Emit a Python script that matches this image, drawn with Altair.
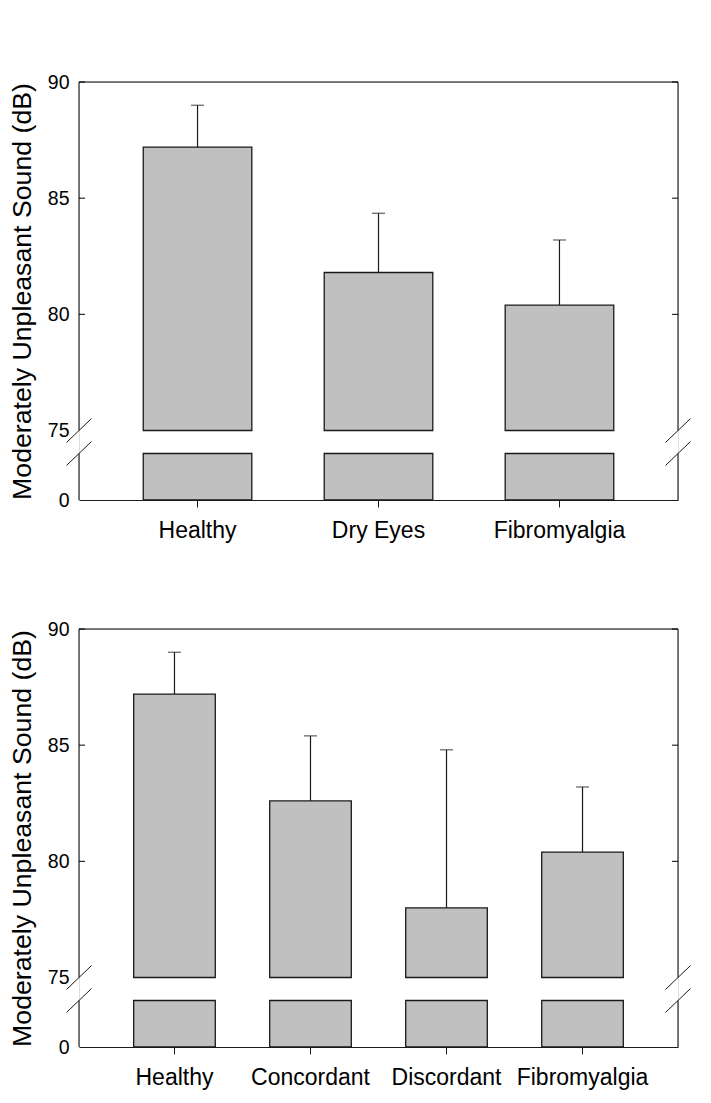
import altair as alt
import pandas as pd

# ---- data ----
groups_top = ["Healthy", "Dry Eyes", "Fibromyalgia"]
means_top = [87.2, 81.8, 80.4]
errs_top = [1.8, 2.55, 2.8]

groups_bottom = ["Healthy", "Concordant", "Discordant", "Fibromyalgia"]
means_bottom = [87.2, 82.6, 78.0, 80.4]
errs_bottom = [1.8, 2.8, 6.8, 2.8]

y_tick_values = [0, 75, 80, 85, 90]
inner_tick_values = [80, 85, 90]
y_title = "Moderately Unpleasant Sound (dB)"

# broken axis: lower segment 0..BREAK_LOW, upper segment BREAK_HIGH..Y_MAX
BREAK_LOW = 10
BREAK_HIGH = 75
Y_MAX = 90

W = 599
H = 418
FONT = "Liberation Sans"
LINE = "#1a1a1a"


def panel(groups, means, errs, pad_outer):
    df = pd.DataFrame({"group": groups, "mean": means, "err": errs})
    df["upper"] = df["mean"] + df["err"]
    df["low"] = df["mean"].clip(upper=BREAK_LOW)

    yscale = alt.Scale(domain=[0, BREAK_LOW, BREAK_HIGH, Y_MAX],
                       range=[H, H - 46.5, H - 69.5, 0],
                       zero=False, nice=False)
    xscale = alt.Scale(domain=groups, paddingInner=0.4, paddingOuter=pad_outer)
    base = alt.Chart(df)

    upper_bars = base.mark_bar(fill="#c0c0c0", stroke=LINE, strokeWidth=1.3).encode(
        x=alt.X("group:N", scale=xscale, sort=groups, title=None,
                axis=alt.Axis(labelAngle=0, labelFont=FONT, labelFontSize=23,
                              labelColor="black", labelPadding=12,
                              tickSize=7, tickColor=LINE, domainColor=LINE,
                              grid=False)),
        y=alt.Y("mean:Q", scale=yscale, title=y_title,
                axis=alt.Axis(values=y_tick_values, domain=False, ticks=False,
                              tickSize=0, grid=False, labelFont=FONT,
                              labelFontSize=19.5, labelColor="black",
                              labelPadding=10, titleFont=FONT,
                              titleFontSize=26.7, titleFontWeight="normal",
                              titleColor="black", titlePadding=11)),
        y2=alt.datum(BREAK_HIGH),
    )
    lower_bars = base.mark_bar(fill="#c0c0c0", stroke=LINE, strokeWidth=1.3).encode(
        x=alt.X("group:N", scale=xscale, sort=groups),
        y=alt.Y("low:Q", scale=yscale),
        y2=alt.datum(0),
    )
    err_line = base.mark_rule(color=LINE, strokeWidth=1.2).encode(
        x=alt.X("group:N", scale=xscale, sort=groups),
        y=alt.Y("mean:Q", scale=yscale),
        y2="upper:Q",
    )
    err_cap = base.mark_tick(color=LINE, size=13, thickness=1.2).encode(
        x=alt.X("group:N", scale=xscale, sort=groups),
        y=alt.Y("upper:Q", scale=yscale),
    )

    # frame lines on the two segments, plus break marks
    frame = []
    for xv in (0, W):
        frame.append(alt.Chart().mark_rule(color="black", strokeWidth=1).encode(
            x=alt.value(xv), y=alt.Y(datum=BREAK_HIGH, scale=yscale),
            y2=alt.datum(Y_MAX)))
        frame.append(alt.Chart().mark_rule(color="black", strokeWidth=1).encode(
            x=alt.value(xv), y=alt.Y(datum=0, scale=yscale),
            y2=alt.datum(BREAK_LOW)))
        for yv in (BREAK_HIGH, BREAK_LOW):
            frame.append(alt.Chart().mark_rule(color=LINE, strokeWidth=1,
                                               yOffset=12, y2Offset=-12).encode(
                x=alt.value(xv - 12.5), x2=alt.value(xv + 12.5),
                y=alt.Y(datum=yv, scale=yscale), y2=alt.datum(yv)))
    frame.append(alt.Chart().mark_rule(color="black", strokeWidth=1).encode(
        x=alt.value(0), x2=alt.value(W), y=alt.Y(datum=Y_MAX, scale=yscale)))

    tick_df = pd.DataFrame({"v": inner_tick_values})
    ticks_left = alt.Chart(tick_df).mark_rule(color="black").encode(
        y=alt.Y("v:Q", scale=yscale), x=alt.value(0), x2=alt.value(6))
    ticks_right = alt.Chart(tick_df).mark_rule(color="black").encode(
        y=alt.Y("v:Q", scale=yscale), x=alt.value(W - 6), x2=alt.value(W))

    return alt.layer(upper_bars, lower_bars, err_line, err_cap,
                     ticks_left, ticks_right, *frame).properties(width=W, height=H)


top = panel(groups_top, means_top, errs_top, 0.355)
bottom = panel(groups_bottom, means_bottom, errs_bottom, 0.402)

chart = alt.vconcat(top, bottom, spacing=75).properties(
    padding={"left": 0, "top": 63, "right": 0, "bottom": 0}
).configure_view(stroke=None).configure(background="white")

chart.save("out.html", embed_options={"renderer": "svg", "actions": False})
